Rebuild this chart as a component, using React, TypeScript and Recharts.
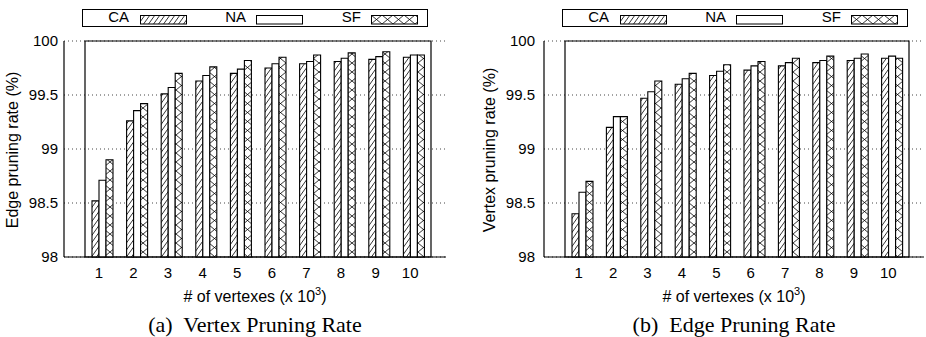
import { BarChart, Bar, XAxis, YAxis, CartesianGrid, ReferenceArea } from 'recharts'

// # of vertexes (x 10^3)
const vertexCounts = ['1', '2', '3', '4', '5', '6', '7', '8', '9', '10']

// (a) left panel, values in %
const caLeft = [98.52, 99.26, 99.51, 99.63, 99.7, 99.75, 99.79, 99.81, 99.83, 99.85]
const naLeft = [98.71, 99.355, 99.57, 99.68, 99.74, 99.79, 99.81, 99.84, 99.855, 99.87]
const sfLeft = [98.9, 99.42, 99.7, 99.76, 99.82, 99.85, 99.87, 99.89, 99.9, 99.87]

// (b) right panel, values in %
const caRight = [98.4, 99.2, 99.47, 99.6, 99.68, 99.73, 99.77, 99.8, 99.82, 99.84]
const naRight = [98.6, 99.3, 99.53, 99.65, 99.72, 99.77, 99.8, 99.82, 99.84, 99.86]
const sfRight = [98.7, 99.3, 99.63, 99.7, 99.78, 99.81, 99.84, 99.86, 99.88, 99.84]

const yTicks = [98, 98.5, 99, 99.5, 100]
const seriesNames = ['CA', 'NA', 'SF']

const sans = '"Liberation Sans", Arial, Helvetica, sans-serif'
const serif = '"Liberation Serif", "Times New Roman", serif'

const buildRows = (ca: number[], na: number[], sf: number[]) =>
  vertexCounts.map((x, i) => ({ x, ca: ca[i], na: na[i], sf: sf[i] }))

const fills: Record<string, string> = {
  CA: 'url(#hatchCA)',
  NA: '#fff',
  SF: 'url(#crossSF)'
}

// gnuplot-like fill patterns, anchored in page space
function Patterns() {
  return (
    <svg width={0} height={0} style={{ position: 'absolute' }}>
      <defs>
        <pattern id="hatchCA" patternUnits="userSpaceOnUse" width={5} height={7}>
          <rect width={5} height={7} fill="#fff" />
          <line x1={0} y1={7} x2={5} y2={0} stroke="#000" strokeWidth={0.8} />
          <line x1={-1} y1={1.4} x2={1} y2={-1.4} stroke="#000" strokeWidth={0.8} />
          <line x1={4} y1={8.4} x2={6} y2={5.6} stroke="#000" strokeWidth={0.8} />
        </pattern>
        <pattern id="crossSF" patternUnits="userSpaceOnUse" width={11} height={9}>
          <rect width={11} height={9} fill="#fff" />
          <line x1={0} y1={0} x2={11} y2={9} stroke="#000" strokeWidth={0.8} />
          <line x1={0} y1={9} x2={11} y2={0} stroke="#000" strokeWidth={0.8} />
        </pattern>
      </defs>
    </svg>
  )
}

function LegendBox({ left }: { left: number }) {
  const textRight = [46, 163, 278]
  const swatchLeft = [58, 174, 289]
  return (
    <div
      style={{
        position: 'absolute',
        left,
        top: 9,
        width: 346,
        height: 18,
        border: '1px solid #000',
        boxSizing: 'border-box',
        fontFamily: sans,
        fontSize: 15
      }}
    >
      {seriesNames.map((name, i) => (
        <div key={name}>
          <span
            style={{
              position: 'absolute',
              right: 346 - 2 - textRight[i],
              top: -2,
              lineHeight: '18px'
            }}
          >
            {name}
          </span>
          <svg
            width={47}
            height={10}
            style={{ position: 'absolute', left: swatchLeft[i] - 1, top: 5 }}
          >
            <rect x={0.5} y={0.5} width={46} height={8.5} fill={fills[name]} stroke="#000" strokeWidth={1} />
          </svg>
        </div>
      ))}
    </div>
  )
}

interface PanelProps {
  left: number
  marginLeft: number
  marginRight: number
  ca: number[]
  na: number[]
  sf: number[]
  yLabel: string
  yLabelX: number
  tickMargin: number
  plotCenter: number
  caption: string
}

function Panel({
  left,
  marginLeft,
  marginRight,
  ca,
  na,
  sf,
  yLabel,
  yLabelX,
  tickMargin,
  plotCenter,
  caption
}: PanelProps) {
  const rows = buildRows(ca, na, sf)
  return (
    <>
      <div style={{ position: 'absolute', left, top: 0 }}>
        <BarChart
          width={463}
          height={290}
          data={rows}
          margin={{ top: 41, right: marginRight, bottom: 0, left: marginLeft }}
          barGap={0}
          barSize={7}
        >
          <CartesianGrid vertical={false} stroke="#444" strokeDasharray="1 3" />
          <XAxis
            dataKey="x"
            interval={0}
            padding={{ left: 21, right: 15 }}
            tickLine={false}
            tickSize={0}
            tickMargin={10}
            height={33}
            axisLine={{ stroke: '#000', strokeWidth: 1.2 }}
            tick={{ fill: '#000', fontSize: 15, fontFamily: sans, dx: -3.5 }}
          />
          <YAxis
            type="number"
            domain={[98, 100]}
            ticks={yTicks}
            tickFormatter={(v: number) => String(v)}
            width={40}
            tickLine={false}
            tickSize={0}
            tickMargin={tickMargin}
            axisLine={{ stroke: '#000', strokeWidth: 1.2 }}
            tick={{ fill: '#000', fontSize: 15, fontFamily: sans }}
          />
          <ReferenceArea y1={98} y2={100} fill="none" stroke="#000" strokeWidth={1.2} />
          <Bar dataKey="ca" fill={fills.CA} stroke="#000" strokeWidth={1.1} isAnimationActive={false} />
          <Bar dataKey="na" fill={fills.NA} stroke="#000" strokeWidth={1.1} isAnimationActive={false} />
          <Bar dataKey="sf" fill={fills.SF} stroke="#000" strokeWidth={1.1} isAnimationActive={false} />
        </BarChart>
      </div>

      {/* y label */}
      <div
        style={{
          position: 'absolute',
          left: yLabelX,
          top: 150,
          transform: 'translate(-50%, -50%) rotate(-90deg)',
          whiteSpace: 'nowrap',
          fontFamily: sans,
          fontSize: 16,
          lineHeight: '18px'
        }}
      >
        {yLabel}
      </div>

      {/* x label */}
      <div
        style={{
          position: 'absolute',
          left: plotCenter,
          top: 288,
          transform: 'translateX(-50%)',
          whiteSpace: 'nowrap',
          fontFamily: sans,
          fontSize: 16,
          lineHeight: '18px'
        }}
      >
        # of vertexes (x 10
        <span style={{ fontSize: 11, position: 'relative', top: -7, lineHeight: 0 }}>3</span>)
      </div>

      {/* caption */}
      <div
        style={{
          position: 'absolute',
          left: plotCenter,
          top: 314,
          transform: 'translateX(-50%)',
          whiteSpace: 'pre',
          fontFamily: serif,
          fontSize: 22,
          lineHeight: '22px'
        }}
      >
        {caption}
      </div>
    </>
  )
}

export default function App() {
  return (
    <div
      style={{
        position: 'absolute',
        left: 0,
        top: 0,
        width: 926,
        height: 337,
        background: '#fff',
        overflow: 'hidden',
        color: '#000'
      }}
    >
      <Patterns />
      <LegendBox left={82} />
      <LegendBox left={562} />
      <Panel
        left={0}
        marginLeft={24}
        marginRight={17}
        ca={caLeft}
        na={naLeft}
        sf={sfLeft}
        yLabel="Edge pruning rate (%)"
        yLabelX={12.5}
        tickMargin={6}
        plotCenter={255}
        caption="(a)  Vertex Pruning Rate"
      />
      <Panel
        left={463}
        marginLeft={41}
        marginRight={2}
        ca={caRight}
        na={naRight}
        sf={sfRight}
        yLabel="Vertex pruning rate (%)"
        yLabelX={490}
        tickMargin={9}
        plotCenter={734}
        caption="(b)  Edge Pruning Rate"
      />
    </div>
  )
}
